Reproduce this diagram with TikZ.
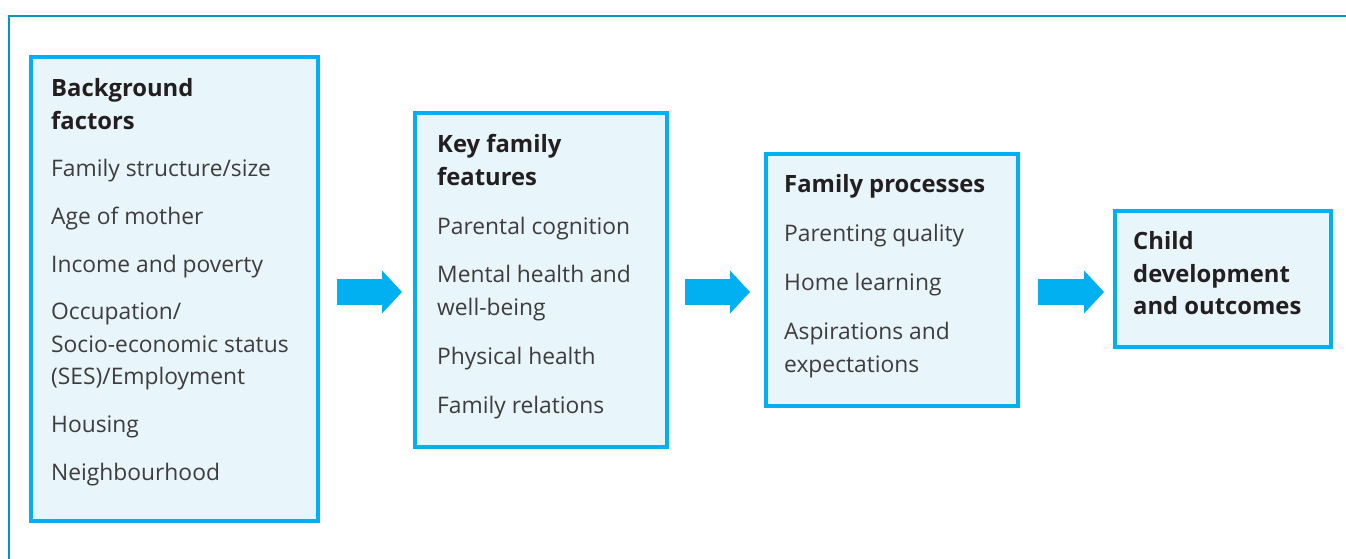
\documentclass[tikz,border=0pt]{standalone}
\usepackage{fontspec}
\setmainfont{Open Sans}
\usetikzlibrary{arrows.meta}
\definecolor{frameteal}{RGB}{0,152,192}
\definecolor{boxcyan}{RGB}{0,176,240}
\definecolor{boxfill}{RGB}{232,245,250}
\definecolor{bodytext}{RGB}{62,60,60}
\definecolor{titletext}{RGB}{35,31,32}
\tikzset{
  box/.style={draw=boxcyan, fill=boxfill, line width=3.5pt, anchor=north west, inner sep=0pt, outer sep=0pt},
  ttl/.style={anchor=base west, inner sep=0pt, text=titletext, font=\fontsize{23.8}{28}\selectfont\bfseries},
  itm/.style={anchor=base west, inner sep=0pt, text=bodytext, font=\fontsize{22.8}{27}\selectfont},
  flow/.style={draw=boxcyan, line width=26pt, -{Triangle[length=20pt,width=42pt]}}
}
\begin{document}
\begin{tikzpicture}[x=1pt,y=-1pt]
\useasboundingbox (0,0) rectangle (1346,558);
\draw[frameteal, line width=2.5pt] (9,560) -- (9,16) -- (1348,16);
% boxes
\node[box, minimum width=287pt, minimum height=464pt] (b1) at (31,57) {};
\node[box, minimum width=252pt, minimum height=334pt] (b2) at (415,113) {};
\node[box, minimum width=252pt, minimum height=252pt] (b3) at (766,154) {};
\node[box, minimum width=216pt, minimum height=136pt] (b4) at (1115,211) {};
% box 1 text
\node[ttl] (t1a) at (51,96) {Background};
\node[ttl] (t1b) at (51,129) {factors};
\node[itm] (i1a) at (51,176) {Family structure/size};
\node[itm] (i1b) at (51,224) {Age of mother};
\node[itm] (i1c) at (51,272) {Income and poverty};
\node[itm] (i1d) at (51,319) {Occupation/};
\node[itm] (i1e) at (51,352) {Socio-economic status};
\node[itm] (i1f) at (51,384) {(SES)/Employment};
\node[itm] (i1g) at (51,432) {Housing};
\node[itm] (i1h) at (51,480) {Neighbourhood};
% box 2 text
\node[ttl] (t2a) at (437,152) {Key family};
\node[ttl] (t2b) at (437,185) {features};
\node[itm] (i2a) at (437,234) {Parental cognition};
\node[itm] (i2b) at (437,282) {Mental health and};
\node[itm] (i2c) at (437,315) {well-being};
\node[itm] (i2d) at (437,364) {Physical health};
\node[itm] (i2e) at (437,413) {Family relations};
% box 3 text
\node[ttl] (t3a) at (784,192) {Family processes};
\node[itm] (i3a) at (784,241) {Parenting quality};
\node[itm] (i3b) at (784,290) {Home learning};
\node[itm] (i3c) at (784,339) {Aspirations and};
\node[itm] (i3d) at (784,372) {expectations};
% box 4 text
\node[ttl] (t4a) at (1133,249) {Child};
\node[ttl] (t4b) at (1133,282) {development};
\node[ttl] (t4c) at (1133,314) {and outcomes};
% arrows
\coordinate (a1s) at (337,292); \coordinate (a1e) at (402,292);
\coordinate (a2s) at (685,292); \coordinate (a2e) at (750,292);
\coordinate (a3s) at (1038,292); \coordinate (a3e) at (1104,292);
\draw[flow] (a1s) -- (a1e);
\draw[flow] (a2s) -- (a2e);
\draw[flow] (a3s) -- (a3e);
\end{tikzpicture}
\end{document}
